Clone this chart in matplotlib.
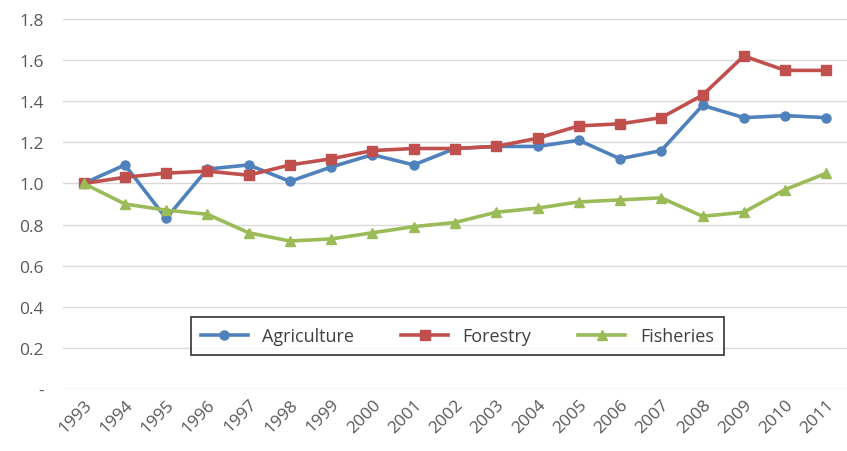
import matplotlib.pyplot as plt
from matplotlib.ticker import FuncFormatter

years = [str(y) for y in range(1993, 2012)]
agriculture = [1.00, 1.09, 0.83, 1.07, 1.09, 1.01, 1.08, 1.14, 1.09, 1.17,
               1.18, 1.18, 1.21, 1.12, 1.16, 1.38, 1.32, 1.33, 1.32]
forestry = [1.00, 1.03, 1.05, 1.06, 1.04, 1.09, 1.12, 1.16, 1.17, 1.17,
            1.18, 1.22, 1.28, 1.29, 1.32, 1.43, 1.62, 1.55, 1.55]
fisheries = [1.00, 0.90, 0.87, 0.85, 0.76, 0.72, 0.73, 0.76, 0.79, 0.81,
             0.86, 0.88, 0.91, 0.92, 0.93, 0.84, 0.86, 0.97, 1.05]

series = [
    ("Agriculture", agriculture, "#4F81BD", "o"),
    ("Forestry", forestry, "#C0504D", "s"),
    ("Fisheries", fisheries, "#9BBB59", "^"),
]

plt.rcParams['font.family'] = ['Open Sans', 'DejaVu Sans']

fig = plt.figure(figsize=(8.47, 4.52), dpi=100)
ax = fig.add_axes([63 / 847, 62 / 452, 784 / 847, 370 / 452])

xs = list(range(len(years)))
for label, ys, color, marker in series:
    ax.plot(xs, ys, color=color, marker=marker, markersize=6.5, linewidth=2.6, label=label)

ax.set_xlim(-0.5, len(years) - 0.5)
ax.set_ylim(0, 1.8)
ax.set_yticks([0.2 * i for i in range(10)])
ax.yaxis.set_major_formatter(FuncFormatter(lambda v, _: "-" if abs(v) < 1e-9 else f"{v:.1f}"))
ax.set_xticks(xs)
ax.set_xticklabels(years, rotation=45, ha="right", rotation_mode="anchor")
ax.tick_params(axis="both", length=0, labelsize=12.5, labelcolor="#595959")
ax.tick_params(axis="x", pad=5)
ax.tick_params(axis="y", pad=14)
ax.grid(axis="y", color="#D9D9D9", linewidth=1)
ax.set_axisbelow(True)
for side in ax.spines.values():
    side.set_visible(False)

leg = ax.legend(loc="center", bbox_to_anchor=(0.503, 0.143), ncol=3, fontsize=13,
                frameon=True, fancybox=False, edgecolor="black", handlelength=2.6,
                columnspacing=2.6, borderpad=0.55)
leg.get_frame().set_linewidth(1.2)
for t in leg.get_texts():
    t.set_color("#404040")

fig.savefig("out.png", dpi=100)
